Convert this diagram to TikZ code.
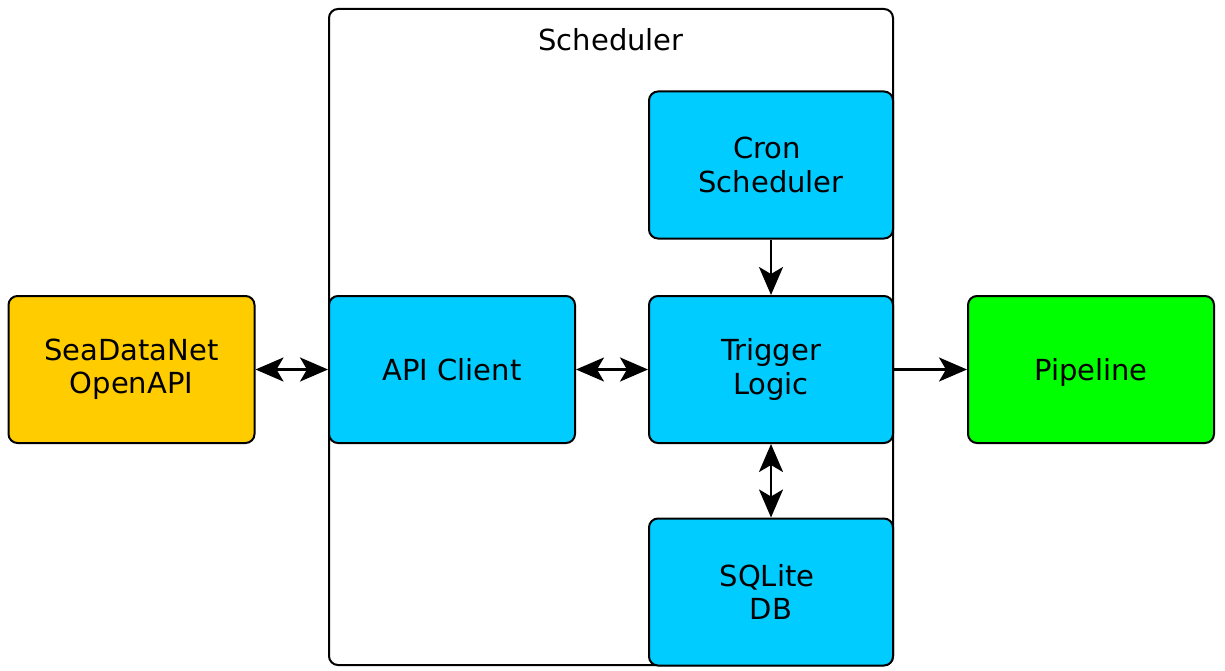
\documentclass[tikz,border=0pt]{standalone}
\usepackage{fontspec}
\setmainfont{DejaVu Sans}
\usetikzlibrary{arrows.meta}
\begin{document}
\begin{tikzpicture}[x=1pt,y=-1pt,
  box/.style={draw=black, line width=2pt, rounded corners=9pt, minimum width=246pt, minimum height=147pt, inner sep=0pt, align=center, font=\fontsize{29}{33.5}\selectfont},
  cyanbox/.style={box, fill=cyanc},
  outerbox/.style={draw=black, line width=2pt, rounded corners=9pt, minimum width=564pt, minimum height=656pt, inner sep=0pt},
  lbl/.style={font=\fontsize{29}{33.5}\selectfont, inner sep=0pt},
  conn/.style={line width=2.5pt, -{Stealth[length=28pt,width=24pt,inset=7pt]}},
  biconn/.style={line width=2.5pt, {Stealth[length=28pt,width=24pt,inset=7pt]}-{Stealth[length=28pt,width=24pt,inset=7pt]}}
]
\definecolor{cyanc}{HTML}{00CCFF}
\definecolor{yellowc}{HTML}{FFCC00}
\definecolor{greenc}{HTML}{00FF00}
\useasboundingbox (0,0) rectangle (1225,671);
\fill[white] (0,0) rectangle (1225,671);
\node[outerbox] (sched) at (611,337) {};
\node[lbl] (schedlbl) at (611,40) {Scheduler};
\node[box, fill=yellowc] (sea) at (131.5,369.5) {SeaDataNet\\OpenAPI};
\node[cyanbox] (api) at (452,369.5) {\raisebox{-10.5pt}[0pt][0pt]{API Client}};
\node[cyanbox, minimum width=244pt] (cron) at (771,165) {Cron\hphantom{i}\\Scheduler};
\node[cyanbox, minimum width=244pt] (trig) at (771,369.5) {Trigger\\Logic};
\node[cyanbox, minimum width=244pt] (db) at (771,592) {SQLite\hphantom{i}\\DB};
\node[box, fill=greenc] (pipe) at (1091,369.5) {\raisebox{-10.5pt}[0pt][0pt]{Pipeline}};
\draw[biconn] (sea.east) -- (api.west);
\draw[biconn] (api.east) -- (trig.west);
\draw[conn] (cron.south) -- (trig.north);
\draw[biconn] (trig.south) -- (db.north);
\draw[conn] (trig.east) -- (pipe.west);
\end{tikzpicture}
\end{document}
